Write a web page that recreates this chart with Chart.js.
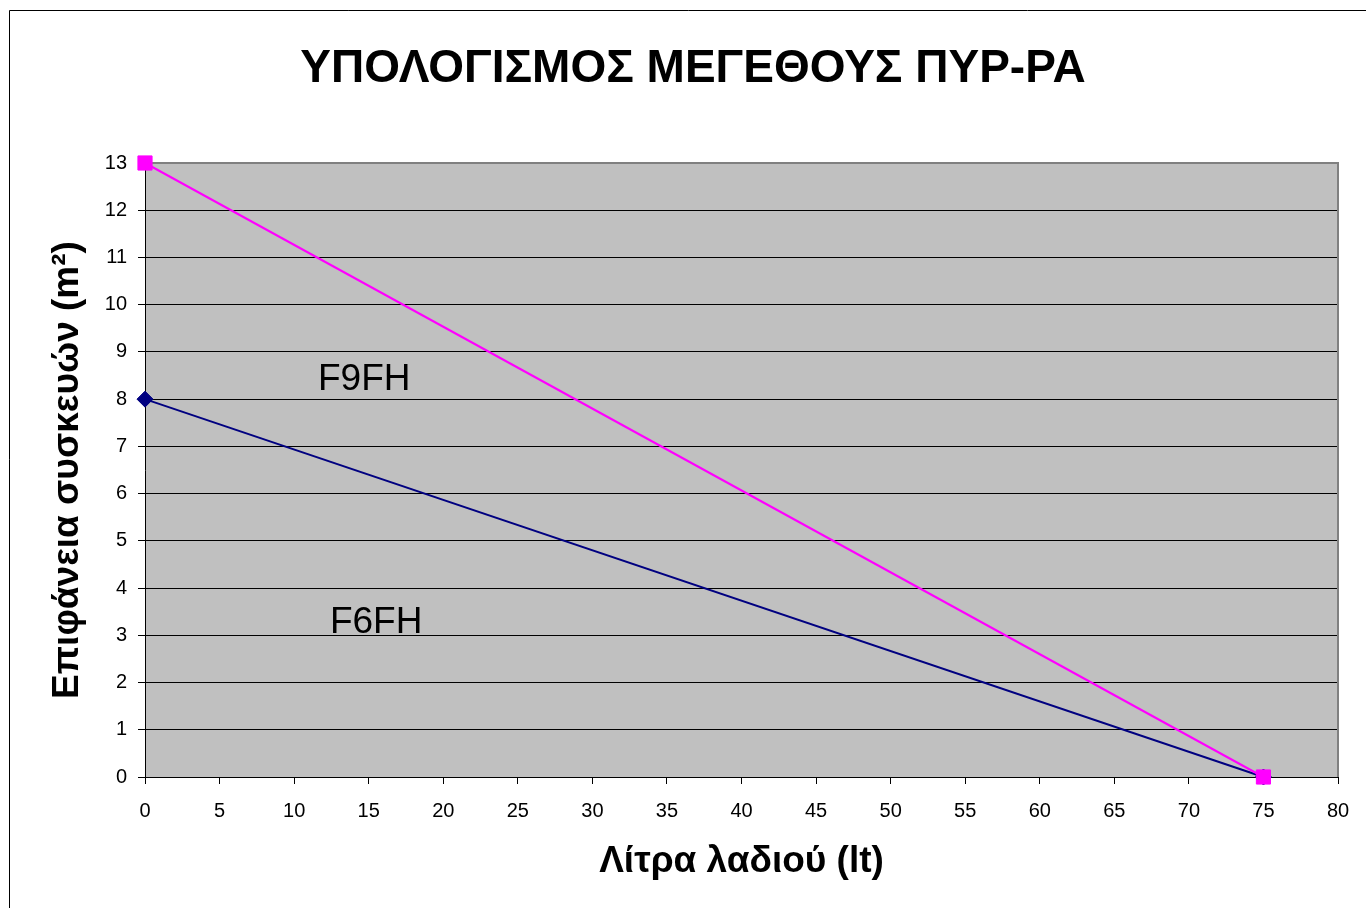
<!DOCTYPE html>
<html>
<head>
<meta charset="utf-8">
<script src="https://cdn.jsdelivr.net/npm/chart.js@4"></script>
<style>
  html, body { margin: 0; padding: 0; background: #fff; }
  #wrap { width: 1366px; height: 908px; }
</style>
</head>
<body>
<div id="wrap"><canvas id="PyrChart" width="1366" height="908"></canvas></div>
<script>
const litres = [0, 75];
const f9fhValues = [13, 0];
const f6fhValues = [8, 0];
const seriesNames = ['F9FH', 'F6FH'];
const xTicks = [0, 5, 10, 15, 20, 25, 30, 35, 40, 45, 50, 55, 60, 65, 70, 75, 80];
const yTicks = [0, 1, 2, 3, 4, 5, 6, 7, 8, 9, 10, 11, 12, 13];

const FONT = '"Liberation Sans", Arial, sans-serif';

const toPoints = (vals) => litres.map((x, i) => ({ x: x, y: vals[i] }));

// background of plot, frame, title and the two series labels
const decor = {
  id: 'decor',
  beforeDraw(chart) {
    const { ctx, chartArea: a } = chart;
    ctx.save();
    ctx.fillStyle = '#fff';
    ctx.fillRect(0, 0, chart.width, chart.height);
    ctx.strokeStyle = '#000';
    ctx.lineWidth = 1;
    ctx.beginPath();
    ctx.moveTo(9.5, 2000);
    ctx.lineTo(9.5, 10.5);
    ctx.lineTo(2000, 10.5);
    ctx.stroke();
    ctx.fillStyle = '#C0C0C0';
    ctx.fillRect(a.left, a.top, a.right - a.left, a.bottom - a.top);
    ctx.fillStyle = '#000';
    ctx.textAlign = 'center';
    ctx.textBaseline = 'middle';
    ctx.font = 'bold 46px ' + FONT;
    ctx.fillText('ΥΠΟΛΟΓΙΣΜΟΣ ΜΕΓΕΘΟΥΣ ΠΥΡ-ΡΑ', 693, 69);
    ctx.restore();
  },
  beforeDatasetsDraw(chart) {
    const { ctx, chartArea: a } = chart;
    ctx.save();
    ctx.strokeStyle = '#808080';
    ctx.lineWidth = 2;
    ctx.beginPath();
    ctx.moveTo(a.left, a.top);
    ctx.lineTo(a.right, a.top);
    ctx.lineTo(a.right, a.bottom);
    ctx.stroke();
    ctx.restore();
  },
  afterDatasetsDraw(chart) {
    const { ctx, scales } = chart;
    ctx.save();
    ctx.fillStyle = '#000';
    ctx.textAlign = 'center';
    ctx.textBaseline = 'middle';
    ctx.font = '37px ' + FONT;
    ctx.fillText(seriesNames[0], scales.x.getPixelForValue(14.7), scales.y.getPixelForValue(8.41));
    ctx.fillText(seriesNames[1], scales.x.getPixelForValue(15.5), scales.y.getPixelForValue(3.27));
    ctx.restore();
  }
};

new Chart(document.getElementById('PyrChart'), {
  type: 'scatter',
  data: {
    datasets: [{
      label: seriesNames[0],
      data: toPoints(f9fhValues),
      showLine: true,
      borderColor: '#FF00FF',
      backgroundColor: '#FF00FF',
      borderWidth: 2,
      pointStyle: 'rect',
      pointRadius: 10,
      pointBorderWidth: 1,
      clip: false
    }, {
      label: seriesNames[1],
      data: toPoints(f6fhValues),
      showLine: true,
      borderColor: '#000080',
      backgroundColor: '#000080',
      borderWidth: 2,
      pointStyle: 'rectRot',
      pointRadius: 8,
      pointBorderWidth: 1,
      clip: false
    }]
  },
  options: {
    responsive: false,
    animation: false,
    events: [],
    layout: { padding: { top: 163, right: 28, bottom: 0, left: 0 } },
    plugins: {
      legend: { display: false },
      title: { display: false },
      tooltip: { enabled: false }
    },
    scales: {
      x: {
        type: 'linear',
        min: 0,
        max: 80,
        afterFit: (s) => { s.height = 131; },
        afterBuildTicks: (s) => { s.ticks = xTicks.map(v => ({ value: v })); },
        grid: { drawOnChartArea: false, drawTicks: true, tickLength: 7, color: '#000' },
        border: { color: '#000', width: 1 },
        ticks: { color: '#000', padding: 15, maxRotation: 0, font: { family: FONT, size: 20 } },
        title: {
          display: true,
          text: 'Λίτρα λαδιού (lt)',
          color: '#000',
          padding: { top: 0, bottom: 24 },
          font: { family: FONT, size: 37, weight: 'bold' }
        }
      },
      y: {
        type: 'linear',
        min: 0,
        max: 13,
        afterFit: (s) => { s.width = 145; },
        afterBuildTicks: (s) => { s.ticks = yTicks.map(v => ({ value: v })); },
        grid: { color: '#000', lineWidth: 1, tickLength: 7 },
        border: { color: '#000', width: 1 },
        ticks: { color: '#000', padding: 11, font: { family: FONT, size: 20 } },
        title: {
          display: true,
          text: 'Επιφάνεια συσκευών (m²)',
          color: '#000',
          padding: { top: 46, bottom: 0 },
          font: { family: FONT, size: 37, weight: 'bold' }
        }
      }
    }
  },
  plugins: [decor]
});
</script>
</body>
</html>
